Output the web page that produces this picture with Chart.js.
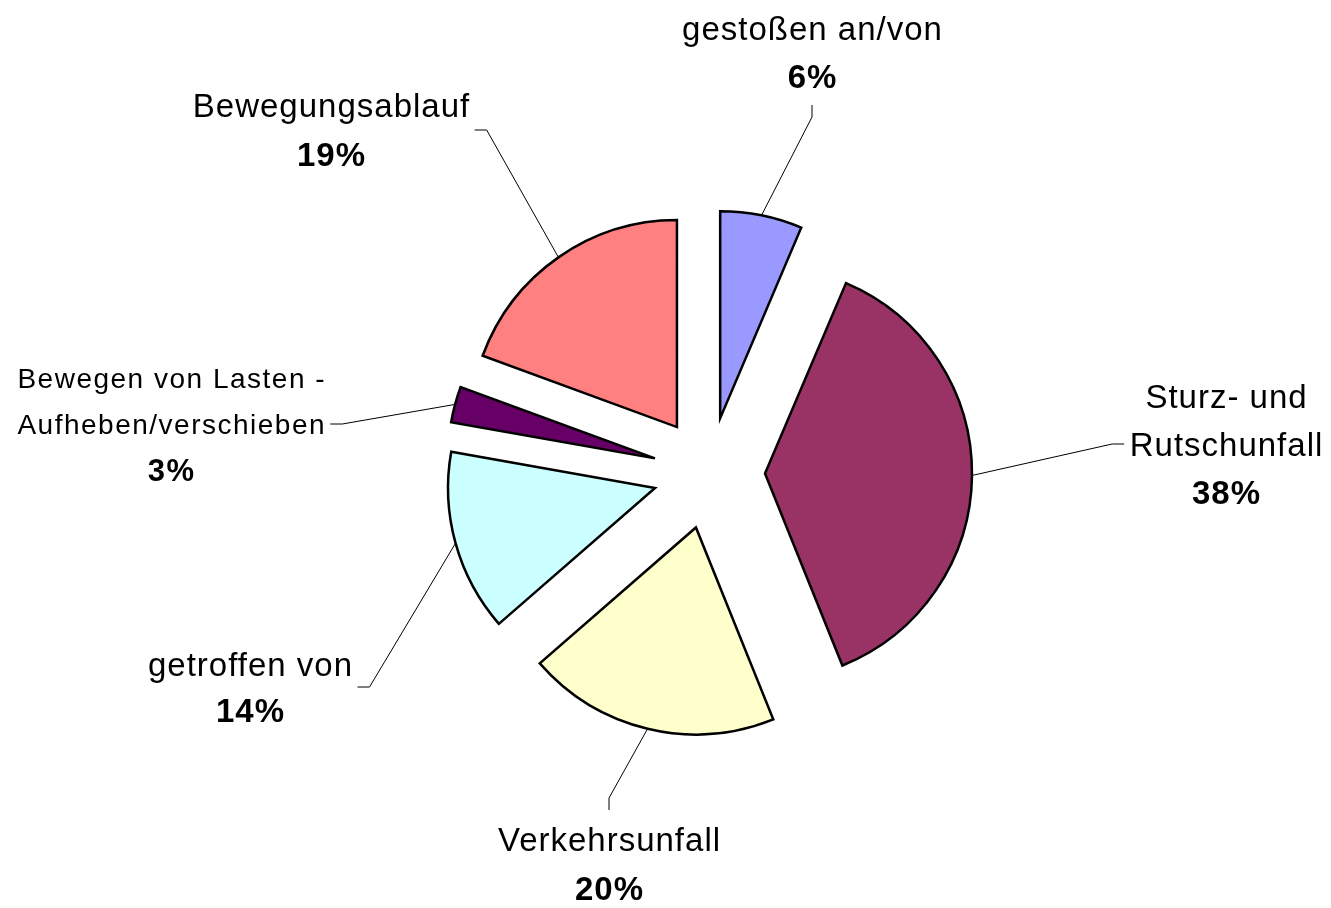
<!DOCTYPE html>
<html><head><meta charset="utf-8">
<script src="https://cdn.jsdelivr.net/npm/chart.js@4.4.1/dist/chart.umd.min.js"></script>
<style>html,body{margin:0;padding:0;background:#fff;overflow:hidden}canvas{display:block}</style>
</head><body>
<canvas id="c" width="1331" height="908"></canvas>
<script>
// ---- data ----
const categories = ['gestoßen an/von', 'Sturz- und Rutschunfall', 'Verkehrsunfall', 'getroffen von', 'Bewegen von Lasten - Aufheben/verschieben', 'Bewegungsablauf'];
const labelLines = [['gestoßen an/von'], ['Sturz- und', 'Rutschunfall'], ['Verkehrsunfall'], ['getroffen von'], ['Bewegen von Lasten -', 'Aufheben/verschieben'], ['Bewegungsablauf']];
const values = [6.4, 37.5, 19.7, 14.2, 2.8, 19.4];
const colors = ['#9999FF', '#993366', '#FFFFCC', '#CCFFFF', '#660066', '#FF8080'];

// ---- layout (label block centre offsets from pie centre, leader side) ----
const labelLayout = [
  {dx: 103, dy: -421, side: 'bottom', size: 33, pct: 33, lh: 48, ls: 1},
  {dx: 517, dy: -29, side: 'left', size: 33, pct: 33, lh: 48, ls: 1},
  {dx: -100, dy: 391, side: 'top', size: 33, pct: 33, lh: 49, ls: 1},
  {dx: -459, dy: 214, side: 'right', size: 33, pct: 33, lh: 46, ls: 1},
  {dx: -538, dy: -49, side: 'right', size: 28, pct: 31, lh: 46, ls: 1.5},
  {dx: -378, dy: -343, side: 'right', size: 33, pct: 33, lh: 49, ls: 1}
];
const EXPLODE = 56;
const FONT = '"Liberation Sans", Arial, sans-serif';

const explodePlugin = {
  id: 'explode',
  beforeDatasetsDraw(chart) {
    const a = chart.chartArea;
    const cx = (a.left + a.right) / 2, cy = (a.top + a.bottom) / 2;
    chart.getDatasetMeta(0).data.forEach(arc => {
      const mid = (arc.startAngle + arc.endAngle) / 2;
      arc.x = cx + EXPLODE * Math.cos(mid);
      arc.y = cy + EXPLODE * Math.sin(mid);
    });
  }
};

const labelPlugin = {
  id: 'sliceLabels',
  afterDatasetsDraw(chart) {
    const ctx = chart.ctx;
    const a = chart.chartArea;
    const cx = (a.left + a.right) / 2, cy = (a.top + a.bottom) / 2;
    const total = values.reduce((s, v) => s + v, 0);
    chart.getDatasetMeta(0).data.forEach((arc, i) => {
      const L = labelLayout[i];
      const lines = labelLines[i].concat([Math.round(values[i] / total * 100) + '%']);
      ctx.save();
      ctx.letterSpacing = L.ls + 'px';
      let w = 0;
      const fonts = lines.map((t, j) => (j === lines.length - 1 ? 'bold ' + L.pct : L.size) + 'px ' + FONT);
      lines.forEach((t, j) => { ctx.font = fonts[j]; w = Math.max(w, ctx.measureText(t).width); });
      const bx = cx + L.dx, by = cy + L.dy;
      const h = lines.length * L.lh;
      const top = by - h / 2;
      ctx.fillStyle = '#000';
      ctx.textAlign = 'center';
      ctx.textBaseline = 'alphabetic';
      lines.forEach((t, j) => {
        ctx.font = fonts[j];
        const sz = j === lines.length - 1 ? L.pct : L.size;
        ctx.fillText(t, bx + L.ls / 2, top + L.lh * (j + 0.5) + sz * 0.358);
      });
      // leader line
      const mid = (arc.startAngle + arc.endAngle) / 2;
      const sx = arc.x + arc.outerRadius * Math.cos(mid);
      const sy = arc.y + arc.outerRadius * Math.sin(mid);
      const gap = 5, stub = 12;
      let ex, ey, kx, ky;
      if (L.side === 'bottom') { ex = bx; ey = top + h + gap; kx = ex; ky = ey + stub; }
      else if (L.side === 'top') { ex = bx; ey = top - gap; kx = ex; ky = ey - stub; }
      else if (L.side === 'left') { ex = bx - w / 2 - gap; ey = by; kx = ex - stub; ky = ey; }
      else { ex = bx + w / 2 + gap; ey = by; kx = ex + stub; ky = ey; }
      ctx.beginPath();
      ctx.moveTo(sx, sy);
      ctx.lineTo(kx, ky);
      ctx.lineTo(ex, ey);
      ctx.strokeStyle = '#000';
      ctx.lineWidth = 1;
      ctx.stroke();
      ctx.restore();
    });
  }
};

new Chart(document.getElementById('c'), {
  type: 'pie',
  data: {
    labels: categories,
    datasets: [{
      data: values,
      backgroundColor: colors,
      borderColor: '#000',
      borderWidth: 2.5,
      borderJoinStyle: 'miter'
    }]
  },
  options: {
    responsive: false,
    animation: false,
    radius: 207,
    events: [],
    layout: {padding: {left: 87, top: 38, right: 0, bottom: 0}},
    plugins: {legend: {display: false}, tooltip: {enabled: false}}
  },
  plugins: [explodePlugin, labelPlugin]
});
</script>
</body></html>
